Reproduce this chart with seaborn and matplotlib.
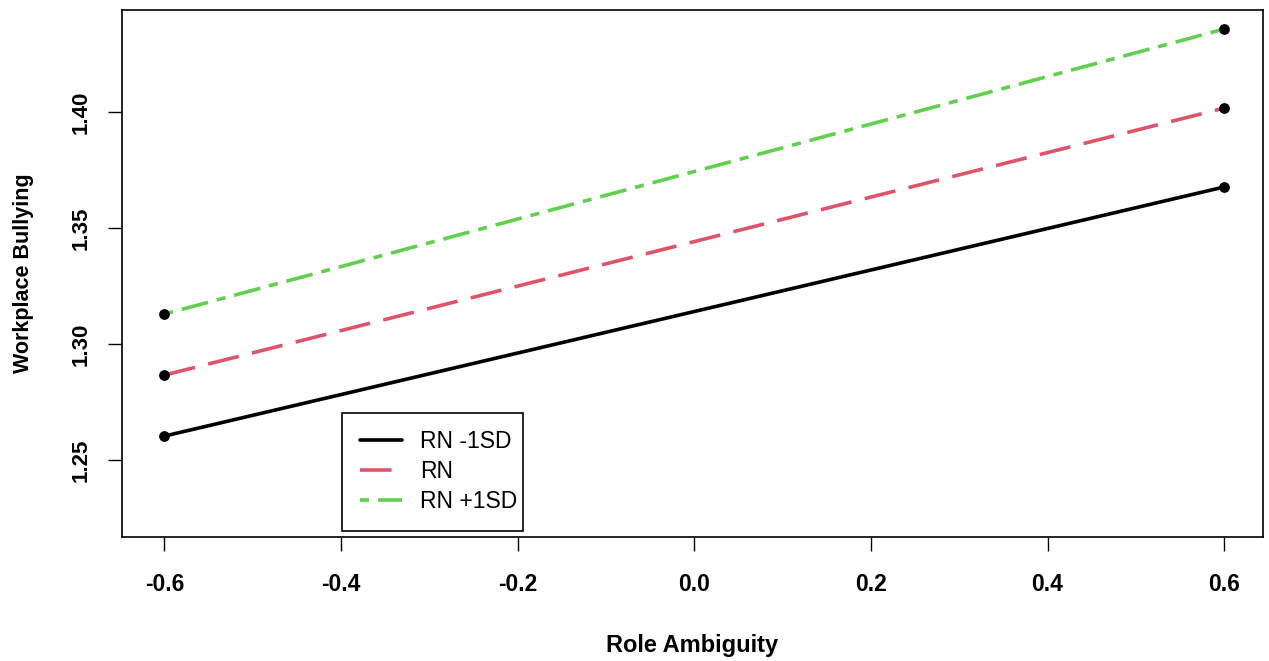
import pandas as pd
import seaborn as sns
import matplotlib.pyplot as plt
from matplotlib.patches import Rectangle

# Simple slopes: Workplace Bullying by Role Ambiguity at levels of RN
role_ambiguity = [-0.6, 0.6]
rn_minus = [1.2603, 1.3677]
rn_mean = [1.2866, 1.4017]
rn_plus = [1.3129, 1.4358]
groups = ["RN -1SD", "RN", "RN +1SD"]

df = pd.DataFrame({
    "x": role_ambiguity * 3,
    "y": rn_minus + rn_mean + rn_plus,
    "group": [g for g in groups for _ in role_ambiguity],
})

sns.set_style("white")
plt.rcParams["font.family"] = ["Liberation Sans", "DejaVu Sans"]
plt.rcParams["text.color"] = "black"
plt.rcParams["axes.labelcolor"] = "black"
plt.rcParams["xtick.color"] = "black"
plt.rcParams["ytick.color"] = "black"

fig = plt.figure(figsize=(12.69, 6.61), dpi=100)
ax = fig.add_axes([0.0961, 0.1876, 0.8992, 0.7973])

colors = {"RN -1SD": "black", "RN": "#DF536B", "RN +1SD": "#61D04F"}
dashes = {"RN -1SD": "", "RN": (8.75, 3.75), "RN +1SD": (2.5, 2.5, 7.5, 2.5)}
lw = 2.6

sns.lineplot(data=df, x="x", y="y", hue="group", style="group",
             palette=colors, dashes=dashes, hue_order=groups, style_order=groups,
             linewidth=lw, ax=ax, legend=False)
sns.scatterplot(data=df, x="x", y="y", color="black", s=60, linewidth=0,
                ax=ax, legend=False, zorder=5)

ax.set_xlim(-0.648, 0.644)
ax.set_ylim(1.2168, 1.444)
ax.set_xticks([-0.6, -0.4, -0.2, 0.0, 0.2, 0.4, 0.6])
ax.set_xticklabels(["-0.6", "-0.4", "-0.2", "0.0", "0.2", "0.4", "0.6"])
ax.set_yticks([1.25, 1.30, 1.35, 1.40])
ax.set_yticklabels(["1.25", "1.30", "1.35", "1.40"], rotation=90, va="center")

for s in ax.spines.values():
    s.set_color("black")
    s.set_linewidth(1.2)

ax.tick_params(axis="both", direction="out", length=10, width=1, color="black",
               bottom=True, left=True)
ax.tick_params(axis="x", labelsize=16.5, pad=16)
ax.tick_params(axis="y", labelsize=16, pad=12)
for lab in ax.get_xticklabels() + ax.get_yticklabels():
    lab.set_fontweight("bold")

ax.set_xlabel("Role Ambiguity", fontsize=17, fontweight="bold", labelpad=27)
ax.set_ylabel("Workplace Bullying", fontsize=15.5, fontweight="bold", labelpad=26)

handles = [plt.Line2D([], [], color=colors[g], linewidth=lw,
                      linestyle=(0, dashes[g]) if dashes[g] else "-")
           for g in groups]
ax.legend(handles, groups, loc="lower left", bbox_to_anchor=(0.1928, 0.0114),
          borderaxespad=0, fontsize=16.5, frameon=False, handlelength=1.83,
          labelspacing=0.3, borderpad=0.8, handletextpad=0.79)
ax.add_patch(Rectangle((0.1928, 0.0114), 0.1586, 0.2239, transform=ax.transAxes,
                       fill=False, edgecolor="black", linewidth=1.2, zorder=6))

fig.savefig("out.png", dpi=100)
